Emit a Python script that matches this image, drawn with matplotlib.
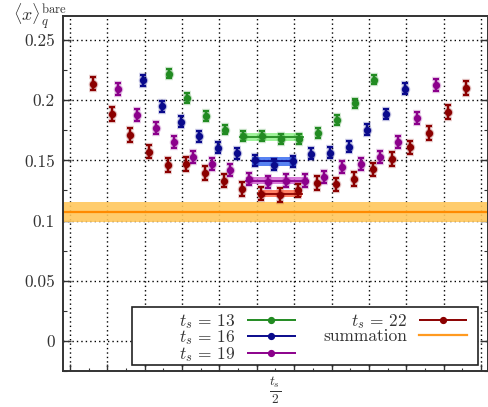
import numpy as np
import matplotlib
matplotlib.use("Agg")
import matplotlib.pyplot as plt
from matplotlib.patches import Rectangle
from matplotlib.container import ErrorbarContainer
from matplotlib.legend_handler import HandlerErrorbar
from matplotlib.lines import Line2D

plt.rcParams['font.family'] = 'serif'
plt.rcParams['font.serif'] = ['cmr10']
plt.rcParams['mathtext.fontset'] = 'cm'
plt.rcParams['axes.formatter.use_mathtext'] = True

# --- data ---
ts_values = [13, 16, 19, 22]
ratio_13 = [0.2222, 0.2020, 0.1868, 0.1756, 0.1704, 0.1704, 0.1676, 0.1676, 0.1728, 0.1837, 0.1974, 0.2172]
ratio_16 = [0.2167, 0.1949, 0.1821, 0.1701, 0.1606, 0.1559, 0.1502, 0.1464, 0.1493, 0.1554, 0.1565, 0.1614,
            0.1756, 0.1886, 0.2096]
ratio_19 = [0.2091, 0.1878, 0.1772, 0.1649, 0.1532, 0.1472, 0.1418, 0.1349, 0.1320, 0.1333, 0.1333, 0.1363,
            0.1445, 0.1469, 0.1532, 0.1655, 0.1854, 0.2129]
ratio_22 = [0.2139, 0.1886, 0.1709, 0.1573, 0.1459, 0.1472, 0.1398, 0.1333, 0.1265, 0.1225, 0.1215, 0.1251,
            0.1314, 0.1300, 0.1344, 0.1425, 0.1513, 0.1608, 0.1728, 0.1900, 0.2099]
err_13 = [0.0040] * 12
err_16 = [0.0045] * 15
err_19 = [0.0050] * 18
err_22 = [0.0057] * 21

# plateau fits: (first tau, last tau, value, error)
fit_13 = (5, 8, 0.1696, 0.0034)
fit_16 = (7, 9, 0.1491, 0.0037)
fit_19 = (8, 11, 0.1333, 0.0032)
fit_22 = (10, 12, 0.1224, 0.0029)

summation_val = 0.1069
summation_err = 0.0082

series = [ratio_13, ratio_16, ratio_19, ratio_22]
errors = [err_13, err_16, err_19, err_22]
fits = [fit_13, fit_16, fit_19, fit_22]
offsets = [-0.225, -0.075, 0.075, 0.225]
colors = ['#228b22', '#0a0a8c', '#8b008b', '#8b0000']
band_colors = ['#8ff08a', '#3a6cf0', '#d266d2', '#ff6a4a']

fig = plt.figure(figsize=(4.89, 4.07), dpi=100)
ax = fig.add_axes([63 / 489, 36 / 407, 425 / 489, 355 / 407])

handles = []
for ts, vals, errs, fit, off, col, bcol in zip(ts_values, series, errors, fits, offsets, colors, band_colors):
    tau = np.arange(1, ts)
    x = tau - ts / 2 + off
    # soft halo under the points
    ax.errorbar(x, vals, yerr=errs, fmt='o', color=col, ms=6, elinewidth=3.2, capsize=3,
                capthick=3.2, alpha=0.18, zorder=3)
    ax.errorbar(x, vals, yerr=errs, fmt='o', color=col, ms=4.2, elinewidth=1.6, capsize=2,
                capthick=1.6, zorder=4)
    t0, t1, v, e = fit
    xf = np.array([t0, t1]) - ts / 2 + off + np.array([-0.18, 0.18])
    ax.fill_between(xf, v - e, v + e, color=bcol, alpha=0.85, lw=0, zorder=2)
    ax.plot(xf, [v, v], color=col, lw=1.3, zorder=2.5)
    h = ax.errorbar([], [], xerr=[], fmt='o', color=col, ms=4.2, elinewidth=1.4, capsize=3,
                    capthick=1.4, label=rf'$t_s \,=\, {ts}$')
    handles.append(h)

ax.axhspan(summation_val - summation_err, summation_val + summation_err, color='#ffc75c', alpha=0.9,
           lw=0, zorder=1.5)
ax.axhline(summation_val, color='#ff8a00', lw=1.6, zorder=1.6)
handles.append(Line2D([], [], color='#ff9a20', lw=1.6, label='summation'))

ax.set_xlim(-11.38, 11.38)
ax.set_ylim(-0.02, 0.27)

ax.set_xticks(np.arange(-11, 12, 2))
ax.set_xticklabels([])
even = np.arange(-10, 11, 2)
ax.set_xticks(even, minor=True)
ax.set_xticklabels([r'$\frac{t_s}{2}$' if t == 0 else '' for t in even], minor=True, fontsize=14)

yt = [0, 0.05, 0.1, 0.15, 0.2, 0.25]
ax.set_yticks(yt)
ax.set_yticklabels(['0', '0.05', '0.1', '0.15', '0.2', '0.25'], fontsize=12.5)
ax.set_yticks(np.arange(-0.025, 0.27, 0.05), minor=True)

ax.tick_params(axis='both', which='both', direction='in', colors='#333333', labelcolor='#333333')
ax.tick_params(axis='x', which='major', length=5, width=1, top=False)
ax.tick_params(axis='x', which='minor', length=2.5, width=0.8, top=False, pad=3)
ax.tick_params(axis='y', which='major', length=6, width=1, right=True, pad=6)
ax.tick_params(axis='y', which='minor', length=3, width=0.8, right=True)

ax.grid(True, which='major', color='black', ls=(0, (1, 2.2)), lw=1.0)
ax.set_axisbelow(True)
for s in ax.spines.values():
    s.set_linewidth(1.4)
    s.set_color('#333333')

# legend box
ax.add_patch(Rectangle((0.1616, 0.0169), 0.977 - 0.1616, 0.181 - 0.0169, transform=ax.transAxes,
                       facecolor='white', edgecolor='#222222', lw=1.2, zorder=5))
leg = ax.legend(handles=handles, ncol=2, loc='lower right', bbox_to_anchor=(0.955, 0.015),
                frameon=False, markerfirst=False, fontsize=12.5, handlelength=2.8, handletextpad=0.65,
                columnspacing=1.6, labelspacing=-0.14, borderaxespad=0, borderpad=0.1,
                handler_map={ErrorbarContainer: HandlerErrorbar(xerr_size=1.4)})
leg.set_zorder(6)
for t in leg.get_texts():
    t.set_color('#333333')

fig.text(13 / 489, 1 - 2 / 407, r'$\langle x\rangle_q^{\mathrm{bare}}$', fontsize=13, va='top',
         ha='left', color='#333333')

fig.savefig('out.png', dpi=100)
